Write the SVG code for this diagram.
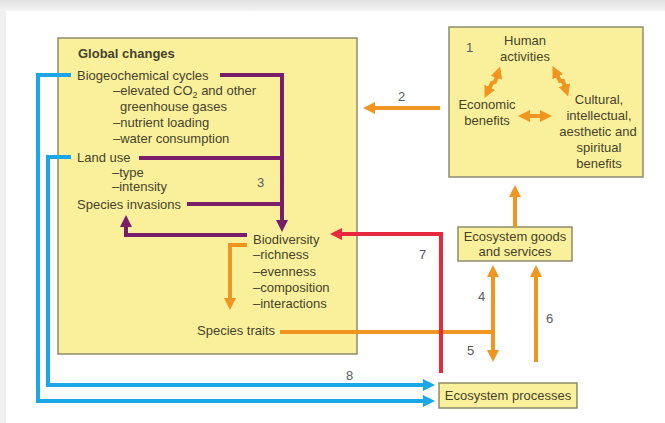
<svg xmlns="http://www.w3.org/2000/svg" width="665" height="423" viewBox="0 0 665 423">
<defs>
<linearGradient id="topg" x1="0" y1="0" x2="0" y2="1"><stop offset="0" stop-color="#e2e2e2"/><stop offset="1" stop-color="#f4f4f4"/></linearGradient>
<marker id="ao" viewBox="0 0 12 12" markerWidth="12" markerHeight="12" markerUnits="userSpaceOnUse" refX="2" refY="6" orient="auto-start-reverse"><path d="M0,0 L12,6 L0,12 z" fill="#f0951f"/></marker>
<marker id="ap" viewBox="0 0 12 12" markerWidth="12" markerHeight="12" markerUnits="userSpaceOnUse" refX="2" refY="6" orient="auto"><path d="M0,0 L12,6 L0,12 z" fill="#7a1e6c"/></marker>
<marker id="ar" viewBox="0 0 12 12" markerWidth="12" markerHeight="12" markerUnits="userSpaceOnUse" refX="2" refY="6" orient="auto"><path d="M0,0 L12,6 L0,12 z" fill="#e8283c"/></marker>
<marker id="ab" viewBox="0 0 12 12" markerWidth="12" markerHeight="12" markerUnits="userSpaceOnUse" refX="2" refY="6" orient="auto"><path d="M0,0 L12,6 L0,12 z" fill="#1ba6e8"/></marker>
</defs>
<style>
.box{fill:#faf09b;stroke:#8c8a6c;stroke-width:1.5}
text{font-family:"Liberation Sans",Arial,sans-serif;font-size:13px;fill:#46432b}
.b{font-weight:bold}
.m{text-anchor:middle}
.o{fill:none;stroke:#f0951f;stroke-width:4}
.p{fill:none;stroke:#7a1e6c;stroke-width:4}
.r{fill:none;stroke:#e8283c;stroke-width:4}
.bl{fill:none;stroke:#1ba6e8;stroke-width:4}
.n{fill:#5a5a5a}
</style>
<rect width="665" height="423" fill="#f0f0f0"/>
<rect width="665" height="11" fill="url(#topg)"/>
<rect x="6" y="11" width="659" height="412" fill="#ffffff"/>

<g id="global-changes">
<rect class="box" x="58" y="38" width="299" height="316"/>
<text class="b" x="78" y="58">Global changes</text>
<text x="77" y="80">Biogeochemical cycles</text>
<text x="113" y="95">–elevated CO<tspan dy="3" font-size="9">2</tspan><tspan dy="-3"> and other</tspan></text>
<text x="120" y="111">greenhouse gases</text>
<text x="113" y="127">–nutrient loading</text>
<text x="113" y="143">–water consumption</text>
<text x="77" y="162">Land use</text>
<text x="112" y="177">–type</text>
<text x="112" y="191">–intensity</text>
<text x="77" y="209">Species invasions</text>
<text class="n" x="257" y="187">3</text>
</g>

<g id="biodiversity">
<text x="253" y="244">Biodiversity</text>
<text x="253" y="259">–richness</text>
<text x="253" y="276">–evenness</text>
<text x="253" y="292">–composition</text>
<text x="253" y="308">–interactions</text>
</g>

<g id="species-traits">
<text x="197" y="335">Species traits</text>
</g>

<g id="human">
<rect class="box" x="449" y="27" width="194" height="150"/>
<text class="n" x="466" y="52">1</text>
<text class="m" x="525" y="45">Human</text>
<text class="m" x="525" y="61">activities</text>
<text class="m" x="487" y="109">Economic</text>
<text class="m" x="487" y="125">benefits</text>
<text class="m" x="599" y="104">Cultural,</text>
<text class="m" x="599" y="120">intellectual,</text>
<text class="m" x="598" y="136">aesthetic and</text>
<text class="m" x="599" y="152">spiritual</text>
<text class="m" x="599" y="168">benefits</text>
</g>

<g id="goods">
<rect class="box" x="458" y="227" width="114" height="34"/>
<text class="m" x="515" y="241">Ecosystem goods</text>
<text class="m" x="515" y="256">and services</text>
</g>

<g id="processes">
<rect class="box" x="439" y="383" width="138" height="25"/>
<text class="m" x="508" y="400">Ecosystem processes</text>
</g>

<g id="connectors">
<path class="p" d="M220,75 H282 V222" marker-end="url(#ap)"/>
<path class="p" d="M139,158 H282"/>
<path class="p" d="M187,204 H282"/>
<path class="p" d="M247,235 H126 V225" marker-end="url(#ap)"/>
<path class="o" d="M247,245 H230 V300" marker-end="url(#ao)"/>
<path class="o" d="M440,108 H373" marker-end="url(#ao)"/>
<path class="o" d="M515,227 V195" marker-end="url(#ao)"/>
<path class="o" d="M280,332 H493"/>
<path class="o" d="M493,275 V352" marker-start="url(#ao)" marker-end="url(#ao)"/>
<path class="o" d="M536,362 V275" marker-end="url(#ao)"/>
<path class="o" d="M489,89 L492,83 L495,82 L497,76" marker-start="url(#ao)" marker-end="url(#ao)"/>
<path class="o" d="M557,75 L560,81 L563,81 L565,87" marker-start="url(#ao)" marker-end="url(#ao)"/>
<path class="o" d="M528,116 H542" marker-start="url(#ao)" marker-end="url(#ao)"/>
<path class="r" d="M441,373 V234 H340" marker-end="url(#ar)"/>
<path class="bl" d="M71,75 H38 V401 H425" marker-end="url(#ab)"/>
<path class="bl" d="M71,157 H48 V385 H425" marker-end="url(#ab)"/>
<text class="n" x="398" y="101">2</text>
<text class="n" x="478" y="301">4</text>
<text class="n" x="467" y="355">5</text>
<text class="n" x="546" y="323">6</text>
<text class="n" x="419" y="259">7</text>
<text class="n" x="346" y="380">8</text>
</g>
</svg>
